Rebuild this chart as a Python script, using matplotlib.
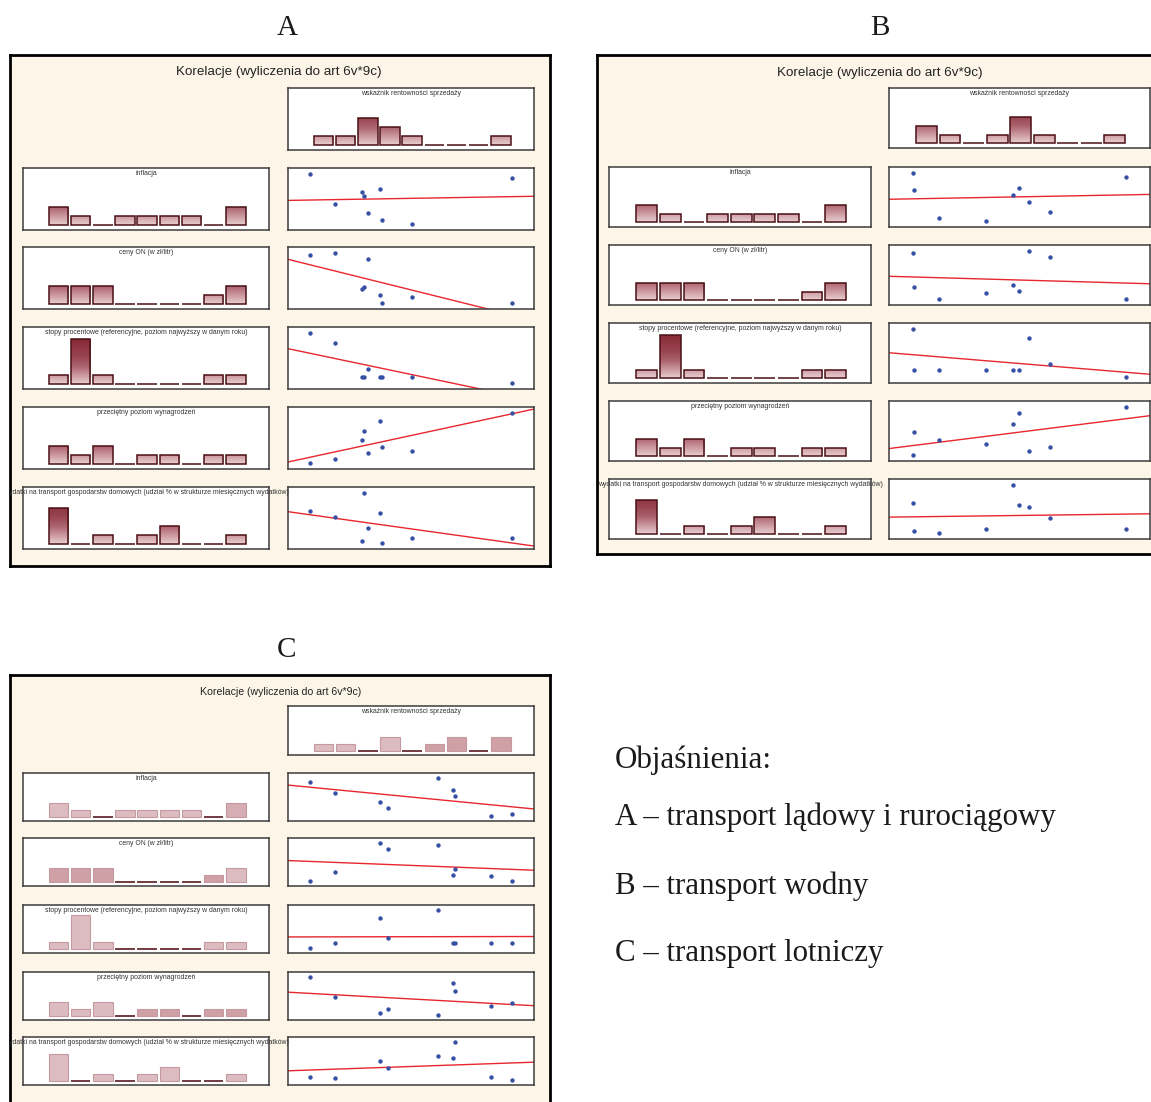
import numpy as np
import matplotlib
matplotlib.use("Agg")
import matplotlib.pyplot as plt
from matplotlib.colors import LinearSegmentedColormap

# ------------------------------------------------------------------ data
title_text = "Korelacje (wyliczenia do art 6v*9c)"
target_name = "wskaźnik rentowności sprzedaży"
var_names = [
    "inflacja",
    "ceny ON (w zł/litr)",
    "stopy procentowe (referencyjne, poziom najwyższy w danym roku)",
    "przeciętny poziom wynagrodzeń",
    "wydatki na transport gospodarstw domowych (udział % w strukturze miesięcznych wydatków)",
]

# histogram counts (9 bins) of the explanatory variables (same in A, B, C)
hist_inflacja = [2, 1, 0, 1, 1, 1, 1, 0, 2]
hist_ceny = [2, 2, 2, 0, 0, 0, 0, 1, 2]
hist_stopy = [1, 5, 1, 0, 0, 0, 0, 1, 1]
hist_wynagrodzenia = [2, 1, 2, 0, 1, 1, 0, 1, 1]
hist_wydatki = [4, 0, 1, 0, 1, 2, 0, 0, 1]
# histogram counts of the profitability ratio
hist_target_A = [1, 1, 3, 2, 1, 0, 0, 0, 1]
hist_target_B = [2, 1, 0, 1, 3, 1, 0, 0, 1]
hist_target_C = [1, 1, 0, 2, 0, 1, 2, 0, 2]

# scatter data (relative units)
A_x = [868, 940, 1020, 1025, 1037, 1073, 1079, 1166, 1459]
A_inflacja = [247, 158, 192, 180, 130, 203, 109, 97, 236]
A_ceny = [522, 527, 427, 432, 510, 410, 388, 404, 388]
A_stopy = [293, 265, 165, 165, 187, 165, 165, 165, 148]
A_wynagrodzenia = [413, 423, 479, 507, 440, 535, 460, 446, 558]
A_wydatki = [268, 251, 178, 323, 217, 262, 172, 187, 187]

B_x = [898, 903, 971, 1098, 1172, 1188, 1214, 1272, 1479]
B_inflacja = [250, 200, 116, 106, 184, 206, 162, 133, 239]
B_ceny = [530, 435, 402, 418, 441, 423, 535, 519, 402]
B_stopy = [307, 184, 184, 184, 184, 184, 279, 201, 162]
B_wynagrodzenia = [408, 475, 452, 441, 497, 531, 419, 430, 547]
B_wydatki = [263, 179, 174, 185, 318, 257, 252, 218, 185]

C_x = [862, 932, 1062, 1083, 1225, 1268, 1273, 1376, 1436]
C_inflacja = [270, 237, 210, 193, 282, 248, 230, 170, 176]
C_ceny = [449, 477, 561, 544, 556, 466, 483, 463, 449]
C_stopy = [248, 262, 337, 277, 360, 262, 262, 262, 262]
C_wynagrodzenia = [548, 493, 448, 460, 443, 532, 510, 467, 476]
C_wydatki = [248, 242, 298, 277, 315, 309, 360, 248, 237]

legend_title = "Objaśnienia:"
legend_lines = ["A – transport lądowy i rurociągowy",
                "B – transport wodny",
                "C – transport lotniczy"]

# ------------------------------------------------------------------ style
W, H = 1151, 1102
fig = plt.figure(figsize=(W / 100, H / 100), dpi=100)
fig.patch.set_facecolor("white")
SANS = ["Liberation Sans", "DejaVu Sans"]
SERIF = ["Liberation Serif", "DejaVu Serif"]
PANEL_BG = "#fdf6e8"
grad_cmap = LinearSegmentedColormap.from_list(
    "g", [(0.0, "#e9cfd2"), (0.2, "#cb979e"), (0.4, "#ab626d"),
          (0.6, "#984652"), (1.0, "#882835")])
C_LIGHT, C_MED = "#dcbcc0", "#cfa0a5"
C_shades = {
    "target": [C_LIGHT, C_LIGHT, C_LIGHT, C_LIGHT, C_LIGHT, C_MED, C_MED, C_MED, C_MED],
    0: [C_LIGHT] * 8 + ["#d6adb2"],
    1: [C_MED, C_MED, C_MED, C_MED, C_MED, C_MED, C_MED, C_MED, C_LIGHT],
    2: [C_LIGHT] * 9,
    3: [C_LIGHT, C_LIGHT, C_LIGHT, C_LIGHT, C_MED, C_MED, C_MED, C_MED, C_MED],
    4: [C_LIGHT] * 9,
}


def add_ax(x0, y0, x1, y1, **kw):
    return fig.add_axes([x0 / W, 1 - y1 / H, (x1 - x0) / W, (y1 - y0) / H], **kw)


def frame(ax, color="#3c3c3c", lw=1.1):
    ax.set_xticks([])
    ax.set_yticks([])
    for s in ax.spines.values():
        s.set_color(color)
        s.set_linewidth(lw)


def hist_panel(ax, counts, title, panel_ax, flat_colors=None):
    frame(ax)
    x = np.arange(len(counts))
    if flat_colors is None:
        bars = ax.bar(x, counts, width=0.88, color="none", edgecolor="#4a1016",
                      linewidth=1.1, zorder=3)
        grad = np.linspace(0, 1, 256).reshape(-1, 1)
        for b, c in zip(bars, counts):
            if c > 0:
                im = ax.imshow(grad, cmap=grad_cmap, origin="lower",
                               extent=(-1.6, 9.5, 0, 5), aspect="auto",
                               zorder=2, vmin=0, vmax=1)
                im.set_clip_path(b)
    else:
        edge = ["#5a1a20" if c == 0 else "#c49aa0" for c in counts]
        lws = [1.2 if c == 0 else 0.8 for c in counts]
        ax.bar(x, counts, width=0.88, color=flat_colors, edgecolor=edge,
               linewidth=lws, zorder=3)
    ax.set_xlim(-1.6, 9.5)
    ax.set_ylim(-0.55, 6.4)
    # title drawn at figure level so it can run over neighbouring boxes,
    # clipped to the panel frame
    pos = ax.get_position()
    t = fig.text((pos.x0 + pos.x1) / 2, pos.y1 - 0.0015, title, ha="center",
                 va="top", fontsize=4.95, family=SANS, color="#333333", zorder=10)
    t.set_clip_path(panel_ax.patch)
    t.set_clip_on(True)


def scatter_panel(ax, x, y):
    frame(ax)
    x = np.asarray(x, float)
    y = np.asarray(y, float)
    ax.scatter(x, y, s=10, color="#3550a3", zorder=3, linewidths=0)
    px = 0.11 * (x.max() - x.min())
    py = 0.13 * (y.max() - y.min())
    xl = (x.min() - px, x.max() + px)
    yl = (y.min() - py, y.max() + py)
    k, b = np.polyfit(x, y, 1)
    xx = np.array(xl)
    ax.plot(xx, k * xx + b, color="#e8262e", lw=1.0, zorder=2)
    ax.set_xlim(xl)
    ax.set_ylim(yl)


def build_panel(rect, tr_rect, left_x, right_x, row_tops, row_h, title_xy,
                title_fs, tx, ys, target_counts, flat=False):
    panel = add_ax(*rect, zorder=0)
    panel.set_facecolor(PANEL_BG)
    frame(panel, color="black", lw=2.0)
    panel.text(title_xy[0] / W, 1 - title_xy[1] / H, title_text,
               transform=fig.transFigure, ha="center", va="center",
               fontsize=title_fs, family=SANS, color="#222222")
    ax = add_ax(*tr_rect, zorder=1)
    hist_panel(ax, target_counts, target_name, panel,
               C_shades["target"] if flat else None)
    hists = [hist_inflacja, hist_ceny, hist_stopy, hist_wynagrodzenia, hist_wydatki]
    for i, top in enumerate(row_tops):
        axl = add_ax(left_x[0], top, left_x[1], top + row_h, zorder=1)
        hist_panel(axl, hists[i], var_names[i], panel, C_shades[i] if flat else None)
        axr = add_ax(right_x[0], top, right_x[1], top + row_h, zorder=1)
        scatter_panel(axr, tx, ys[i])


build_panel((10, 55, 550, 566), (288, 88, 534, 150), (23, 269), (288, 534),
            [168, 247, 327, 407, 487], 62, (279, 72), 9.6, A_x,
            [A_inflacja, A_ceny, A_stopy, A_wynagrodzenia, A_wydatki], hist_target_A)
build_panel((597, 55, 1170, 554), (889, 88, 1150, 148), (609, 871), (889, 1150),
            [167, 245, 323, 401, 479], 60, (880, 73), 9.6, B_x,
            [B_inflacja, B_ceny, B_stopy, B_wynagrodzenia, B_wydatki], hist_target_B)
build_panel((10, 675, 550, 1120), (288, 706, 534, 755), (23, 269), (288, 534),
            [773, 838, 905, 972, 1037], 48, (281, 692), 7.6, C_x,
            [C_inflacja, C_ceny, C_stopy, C_wynagrodzenia, C_wydatki], hist_target_C,
            flat=True)

for letter, (lx, ly) in zip("ABC", [(287, 28), (880, 28), (287, 650)]):
    fig.text(lx / W, 1 - ly / H, letter, ha="center", va="center",
             fontsize=21, family=SERIF, color="#1a1a1a")

fig.text(615 / W, 1 - 760 / H, legend_title, ha="left", va="center",
         fontsize=22.3, family=SERIF, color="#1a1a1a")
for line, ly in zip(legend_lines, [817, 886, 953]):
    fig.text(615 / W, 1 - ly / H, line, ha="left", va="center",
             fontsize=22.3, family=SERIF, color="#1a1a1a")

fig.savefig("out.png", dpi=100)
